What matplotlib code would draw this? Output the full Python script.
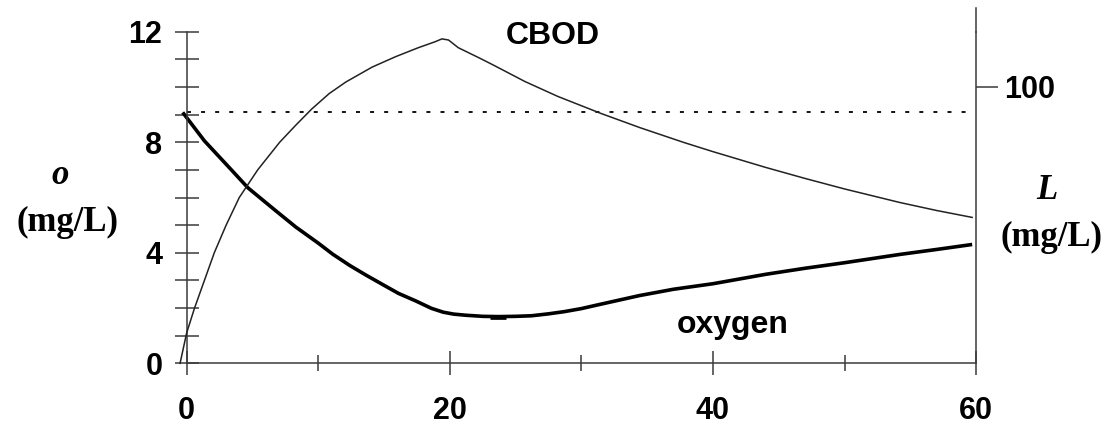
import numpy as np
import matplotlib
matplotlib.use("Agg")
from matplotlib import pyplot as plt

# CBOD (L, mg/L, right axis)
cbod_x = [-0.5, 0.0, 0.6, 1.35, 2.1, 3.0, 4.0, 5.4, 7.07, 8.3, 9.5, 10.83, 12.1, 14.1,
          15.9, 17.6, 18.9, 19.4, 19.9, 20.65, 22.2, 23.2, 25.7, 28.2, 31.5, 34.5,
          37.8, 40.0, 44.0, 47.0, 50.0, 54.2, 57.0, 59.7]
cbod_L = [0, 11, 20, 30, 40, 50, 60, 70, 80, 86.2, 92, 97.6, 101.8, 107.2,
          111, 114.2, 116.4, 117.4, 117.0, 114.2, 110.6, 108.2, 102.0, 96.6, 90.4, 85.2,
          79.9, 76.6, 70.9, 66.9, 63.1, 58.2, 55.3, 52.8]

# dissolved oxygen (o, mg/L, left axis)
oxy_x = [-0.3, 1.35, 3.4, 4.66, 5.55, 6.8, 8.3, 10.0, 11.1, 12.4, 13.6, 14.9, 16.1,
         17.4, 18.6, 19.5, 20.3, 21.2, 22.5, 23.7, 25.0, 26.2, 27.5, 28.7, 30.0, 31.2,
         34.4, 37.0, 40.0, 44.0, 47.0, 50.0, 54.2, 57.0, 59.7]
oxy_o = [9.08, 8.05, 7.0, 6.35, 6.0, 5.51, 4.93, 4.35, 3.95, 3.54, 3.2, 2.85, 2.53,
         2.26, 1.99, 1.85, 1.78, 1.74, 1.70, 1.69, 1.70, 1.72, 1.79, 1.87, 1.98, 2.11,
         2.45, 2.68, 2.88, 3.22, 3.44, 3.64, 3.94, 4.12, 4.30]

o_sat = 9.1
sat_x = [0, 59.3]

sans = 'Liberation Sans'
serif = 'Liberation Serif'
axc = '#3a3a3a'

fig = plt.figure(figsize=(11.13, 4.32), dpi=100)
ax = fig.add_axes([0.1677, 0.159, 0.877 - 0.1677, 0.9266 - 0.159])
ax2 = ax.twinx()

ax.set_xlim(0, 60)
ax.set_ylim(0, 12)
ax2.set_ylim(0, 120)

imin = int(np.argmin(oxy_o))
ax.plot([oxy_x[imin]], [oxy_o[imin]], marker='_', ms=12, mew=3.4, color='black', zorder=1)
ax.plot(oxy_x, oxy_o, color='black', lw=2.6, clip_on=False, solid_capstyle='butt',
        solid_joinstyle='round', zorder=2)
ax.plot(sat_x, [o_sat, o_sat], color='black', lw=1.3, linestyle=(0, (2.2, 5.6)))
ax2.plot(cbod_x, cbod_L, color='#222222', lw=1.1, clip_on=False, solid_joinstyle='round')

ax.spines['top'].set_visible(False)
ax2.spines['top'].set_visible(False)
ax.spines['right'].set_visible(False)
ax2.spines['left'].set_visible(False)
ax2.spines['bottom'].set_visible(False)
for s in ('left', 'bottom'):
    ax.spines[s].set_color(axc)
    ax.spines[s].set_linewidth(1.1)
ax2.spines['right'].set_color(axc)
ax2.spines['right'].set_linewidth(1.1)
# right axis line runs a little above the plot
ax2.plot([1, 1], [1, 1.071], transform=ax2.transAxes, color=axc, lw=1.1, clip_on=False)

ax.set_xticks([0, 20, 40, 60])
ax.set_xticks([10, 30, 50], minor=True)
ax.set_yticks([0, 4, 8, 12])
ax.set_yticks([1, 2, 3, 5, 6, 7, 9, 10, 11], minor=True)
ax.tick_params(axis='y', which='both', direction='inout', length=17, width=1.1, color=axc, pad=9)
ax.tick_params(axis='x', which='major', direction='inout', length=17, width=1.1, color=axc, pad=15)
ax.tick_params(axis='x', which='minor', direction='inout', length=12, width=1.1, color=axc)
ax2.set_yticks([100])
ax2.tick_params(axis='y', direction='out', length=16, width=1.1, color=axc, pad=4)

for lab in ax.get_xticklabels() + ax.get_yticklabels() + ax2.get_yticklabels():
    lab.set_fontfamily(sans)
    lab.set_fontweight('bold')
    lab.set_fontsize(22)

ax.text(27.8, 11.85, 'CBOD', fontfamily=sans, fontweight='bold', fontsize=23,
        ha='center', va='center')
ax.text(41.5, 1.39, 'oxygen', fontfamily=sans, fontweight='bold', fontsize=23,
        ha='center', va='center')

fig.text(60 / 1113, 1 - 175 / 432, 'o', fontfamily=serif, fontstyle='italic',
         fontweight='bold', fontsize=25, ha='center', va='center')
fig.text(67 / 1113, 1 - 222 / 432, '(mg/L)', fontfamily=serif, fontweight='bold',
         fontsize=25, ha='center', va='center')
fig.text(1047 / 1113, 1 - 190 / 432, 'L', fontfamily=serif, fontstyle='italic',
         fontweight='bold', fontsize=25, ha='center', va='center')
fig.text(1052 / 1113, 1 - 237 / 432, '(mg/L)', fontfamily=serif, fontweight='bold',
         fontsize=25, ha='center', va='center')

fig.savefig('out.png', dpi=100)
